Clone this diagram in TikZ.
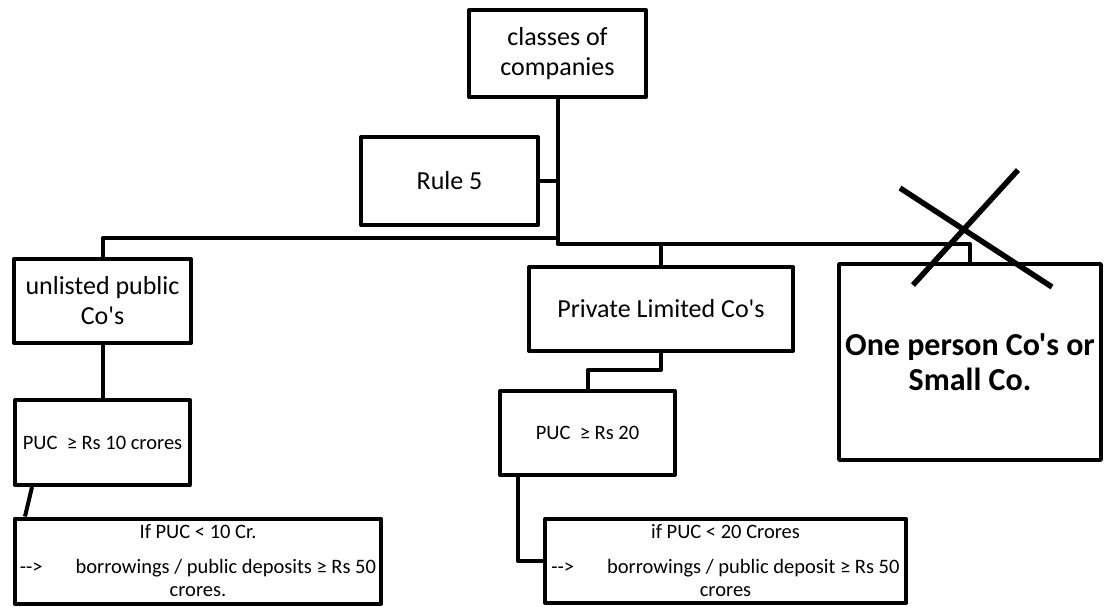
\documentclass[tikz,border=0pt]{standalone}
\usepackage{fontspec}
\setmainfont{Carlito}[Ligatures=TeXOff]
\begin{document}
\begin{tikzpicture}[x=1pt,y=-1pt,
    box/.style={draw,line width=4pt,line join=round,inner sep=0pt,align=center,
      font=\fontsize{26}{30}\selectfont},
    smallbox/.style={box,font=\fontsize{20.5}{23}\selectfont},
    link/.style={line width=4pt,line join=round}]
  \useasboundingbox (0,0) rectangle (1113,606);
  % boxes
  \node[box,minimum width=177pt,minimum height=87pt] (classes) at (557.5,53.5) {classes of\\companies};
  \node[box,minimum width=177pt,minimum height=88pt] (rule) at (449.5,181) {Rule 5};
  \node[box,minimum width=177pt,minimum height=84pt] (unlisted) at (102.5,301) {unlisted public\\Co's};
  \node[box,minimum width=264pt,minimum height=84pt] (private) at (661,309) {Private Limited Co's};
  \node[box,line width=3.5pt,minimum width=262pt,minimum height=196pt,
    font=\fontsize{32}{35}\selectfont\bfseries] (opc) at (970,362) {One person Co's or\\Small Co.};
  \node[smallbox,minimum width=175pt,minimum height=85pt] (puc10) at (102.5,442.5) {PUC~~≥ Rs 10 crores};
  \node[smallbox,minimum width=175pt,minimum height=84pt] (puc20) at (587.5,433) {PUC~~≥ Rs 20};
  \node[smallbox,minimum width=366pt,minimum height=85pt] (cond10) at (198,561) {If PUC < 10 Cr.\\[12pt]-->\hspace{33pt}borrowings / public deposits ≥ Rs 50\\crores.};
  \node[smallbox,minimum width=361pt,minimum height=84pt] (cond20) at (725.5,561) {if PUC < 20 Crores\\[12pt]-->\hspace{33pt}borrowings / public deposit ≥ Rs 50\\crores};
  % connectors
  \coordinate (busL) at (102.5,238);
  \coordinate (busR) at (557.5,244);
  \draw[link] (classes.south) -- (classes.south |- busR) -| (opc.north);
  \draw[link] (rule.east) -- (rule.east -| classes.south);
  \draw[link] (unlisted.north) -- (busL) -- (busL -| classes.south);
  \draw[link] (private.north) -- (private.north |- busR);
  \draw[link] (unlisted.south) -- (puc10.north);
  \draw[link] ([xshift=19pt]puc10.south west) -- ([xshift=12pt]cond10.north west);
  \draw[link] (private.south) -- ++(0,17) -| (puc20.north);
  \draw[link] ([xshift=20pt]puc20.south west) |- (cond20.west);
  % crossed out
  \draw[line width=5.5pt] (900,188) -- (1052,287) (1018,170) -- (913,285);
\end{tikzpicture}
\end{document}
